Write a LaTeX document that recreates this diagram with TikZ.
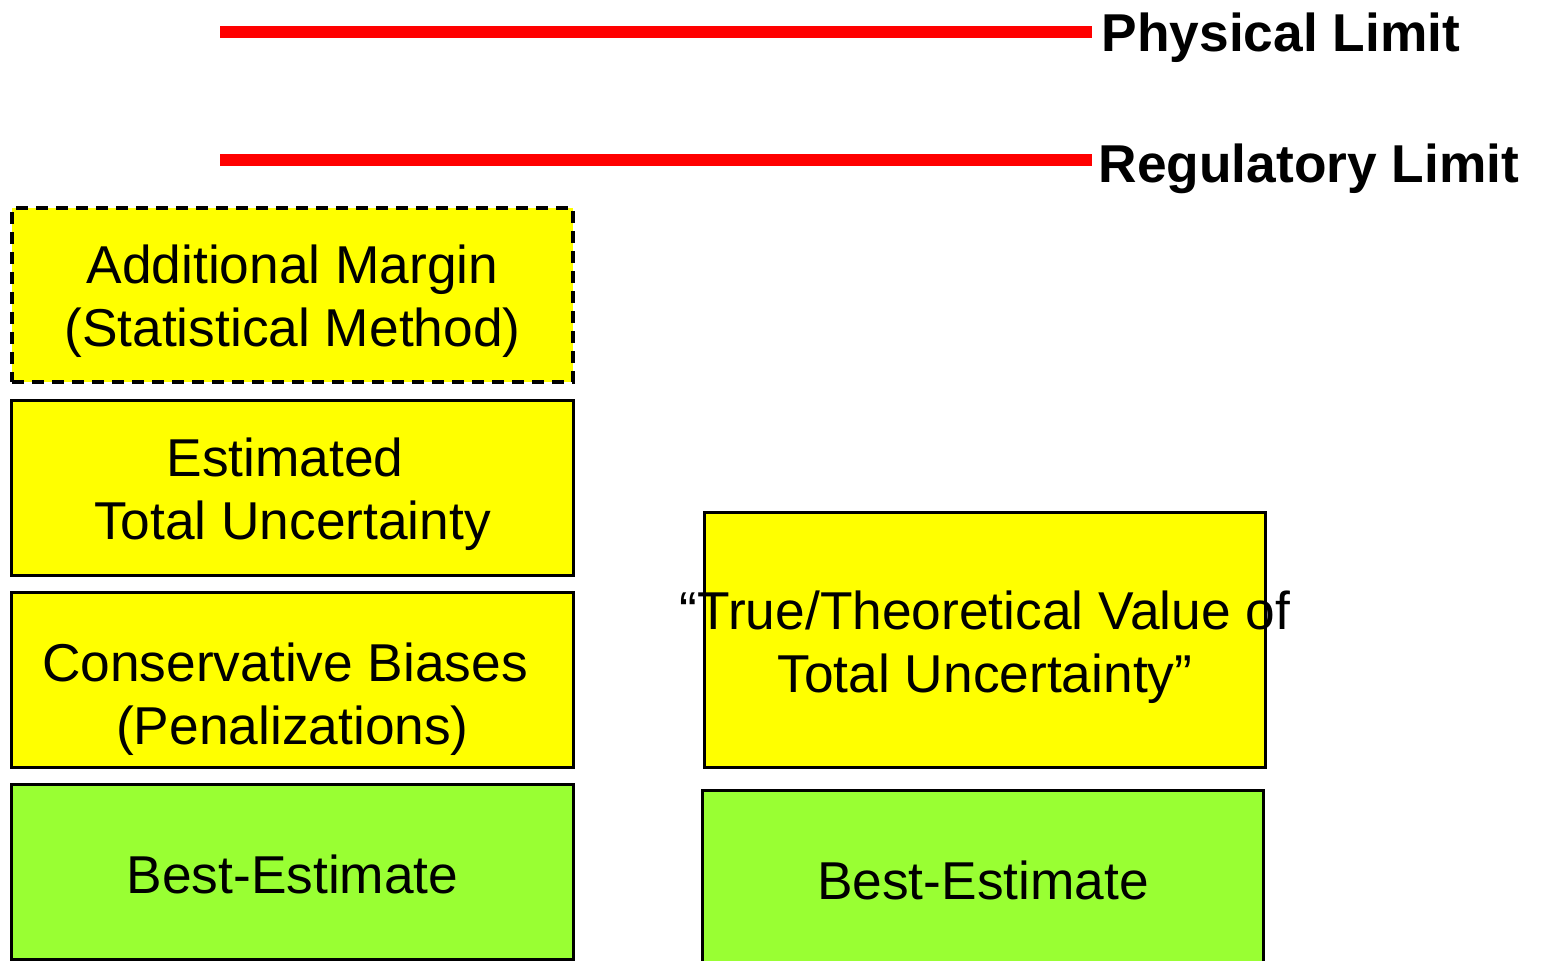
\documentclass[tikz,border=0pt]{standalone}
\usepackage{fontspec}
\setmainfont{Liberation Sans}
\definecolor{boxyellow}{HTML}{FFFF00}
\definecolor{boxgreen}{HTML}{99FF33}
\definecolor{limitred}{HTML}{FF0000}
\tikzset{
  bar/.style={rectangle, draw=black, line width=3bp, inner sep=0pt, minimum width=561bp},
  ybar/.style={bar, fill=boxyellow},
  gbar/.style={bar, fill=boxgreen},
  dbar/.style={ybar, line width=3.5bp, dash pattern=on 12bp off 8bp},
  txt/.style={align=center, inner sep=0pt, font=\fontsize{53.5}{63.5}\selectfont},
  lbl/.style={anchor=west, inner sep=0pt, font=\fontsize{53.5}{63.5}\selectfont\bfseries},
  redline/.style={draw=limitred, line width=12bp}
}
\begin{document}
\begin{tikzpicture}[x=1bp,y=-1bp]
\useasboundingbox (0,0) rectangle (1543,960);
\clip (0,0) rectangle (1543,960);
% limits
\coordinate (p1) at (220,32);
\coordinate (p2) at (1092,32);
\coordinate (r1) at (220,160);
\coordinate (r2) at (1092,160);
\draw[redline] (p1) -- (p2);
\draw[redline] (r1) -- (r2);
\node[lbl] (phys) at (1101.5,38) {Physical Limit};
\node[lbl] (reg) at (1098.5,169) {Regulatory Limit};
% left column
\node[dbar, minimum height=174bp] (am) at (292.5,295) {};
\node[txt] (amt) at (292.5,301) {Additional Margin\\(Statistical Method)};
\node[ybar, minimum height=175bp] (etu) at (292.5,487.5) {};
\node[txt] (etut) at (292.5,494.5) {\mbox{Estimated\ }\\Total Uncertainty};
\node[ybar, minimum height=175bp] (cb) at (292.5,679.5) {};
\node[txt] (cbt) at (292.5,699) {\mbox{Conservative Biases\ }\\(Penalizations)};
\node[gbar, minimum height=175bp] (be1) at (292.5,871.5) {};
\node[txt] (be1t) at (292.5,874) {Best-Estimate};
% right column
\node[ybar, minimum height=255bp] (tv) at (984.5,639.5) {};
\node[txt] (tvt) at (985,647.5) {“True/Theoretical Value of\\Total Uncertainty”};
\node[gbar, minimum height=200bp] (be2) at (982.5,890) {};
\node[txt] (be2t) at (983,880) {Best-Estimate};
\end{tikzpicture}
\end{document}
